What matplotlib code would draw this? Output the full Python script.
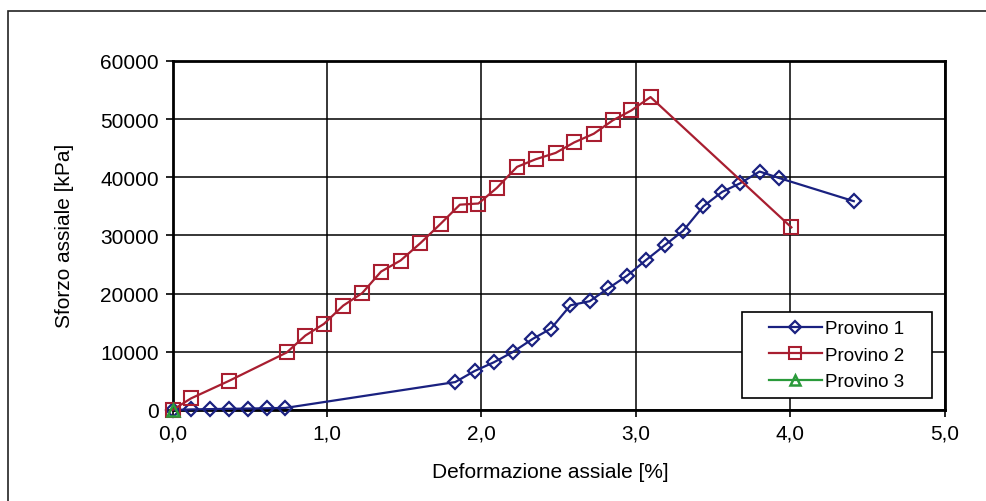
import matplotlib
matplotlib.use("Agg")
import matplotlib.pyplot as plt
from matplotlib.patches import Rectangle
from matplotlib.ticker import FuncFormatter, MultipleLocator

plt.rcParams['font.family'] = ['Liberation Sans', 'DejaVu Sans']

# Provino 1
p1_x = [0.0, 0.12, 0.24, 0.365, 0.487, 0.61, 0.73, 1.83, 1.955, 2.08, 2.205, 2.33, 2.45,
        2.576, 2.70, 2.82, 2.943, 3.066, 3.185, 3.305, 3.435, 3.558, 3.676, 3.80, 3.924, 4.41]
p1_y = [0, 100, 150, 200, 250, 300, 350, 4800, 6700, 8200, 10000, 12200, 14000,
        18000, 18700, 20900, 23100, 25800, 28300, 30800, 35000, 37500, 39000, 41000, 39900, 35900]
# Provino 2
p2_x = [0.0, 0.12, 0.365, 0.74, 0.86, 0.98, 1.105, 1.228, 1.35, 1.476, 1.605, 1.735, 1.86,
        1.98, 2.10, 2.23, 2.35, 2.48, 2.60, 2.727, 2.85, 2.97, 3.094, 4.006]
p2_y = [0, 2000, 5000, 9900, 12800, 14800, 17950, 20100, 23800, 25700, 28700, 32000, 35300,
        35500, 38200, 41800, 43100, 44200, 46000, 47500, 49800, 51500, 53800, 31400]
# Provino 3
p3_x = [0.0]
p3_y = [0]

labels = ["Provino 1", "Provino 2", "Provino 3"]
xlabel = "Deformazione assiale [%]"
ylabel = "Sforzo assiale [kPa]"

fig = plt.figure(figsize=(9.87, 5.02), dpi=100)
ax = fig.add_axes([0.1748, 0.1813, 0.9574 - 0.1748, 0.8765 - 0.1813])

c1, c2, c3 = '#1a2180', '#a81e30', '#2a9a3a'
ax.plot(p1_x, p1_y, color=c1, lw=1.6, marker='D', ms=7, mfc='none', mec=c1, mew=1.6,
        label=labels[0], zorder=3, clip_on=False)
ax.plot(p2_x, p2_y, color=c2, lw=1.6, marker='s', ms=10.5, mfc='none', mec=c2, mew=1.5,
        label=labels[1], zorder=4, clip_on=False)
ax.plot(p3_x, p3_y, color=c3, lw=1.6, marker='^', ms=9, mfc='none', mec=c3, mew=1.8,
        label=labels[2], zorder=5, clip_on=False)

ax.set_xlim(0, 5)
ax.set_ylim(0, 60000)
ax.xaxis.set_major_locator(MultipleLocator(1))
ax.yaxis.set_major_locator(MultipleLocator(10000))
ax.xaxis.set_major_formatter(FuncFormatter(lambda v, p: f"{v:.1f}".replace('.', ',')))
ax.yaxis.set_major_formatter(FuncFormatter(lambda v, p: f"{int(v)}"))
ax.grid(True, color='black', lw=1.1)
ax.set_axisbelow(True)
for s in ax.spines.values():
    s.set_linewidth(2.0)
    s.set_color('black')
ax.tick_params(direction='out', length=5, width=1.2, labelsize=15, colors='black', pad=5)

ax.set_xlabel(xlabel, fontsize=15)
ax.set_ylabel(ylabel, fontsize=15)
ax.xaxis.set_label_coords(0.489, -0.150)
ax.yaxis.set_label_coords(-0.128, 0.501)

# legend box (frame drawn separately to match the wide padding of the original)
lx0, ly0, lx1, ly1 = 0.737, 0.034, 0.983, 0.281
ax.add_patch(Rectangle((lx0, ly0), lx1 - lx0, ly1 - ly0, transform=ax.transAxes,
                       facecolor='white', edgecolor='black', lw=1.2, zorder=6))
leg = ax.legend(loc='center', bbox_to_anchor=((lx0 + lx1) / 2, (ly0 + ly1) / 2), fontsize=13.5,
                frameon=False, handlelength=2.8, borderpad=0.0, labelspacing=0.5,
                handletextpad=0.2, borderaxespad=0, markerscale=0.85)
leg.set_zorder(7)

# outer chart frame
fig.patches.append(Rectangle((8 / 987, -0.2), 1.2, 1 - 12 / 502 + 0.2,
                             transform=fig.transFigure, fill=False, edgecolor='#222222',
                             lw=1.2, clip_on=False))

fig.savefig("out.png", dpi=100)
